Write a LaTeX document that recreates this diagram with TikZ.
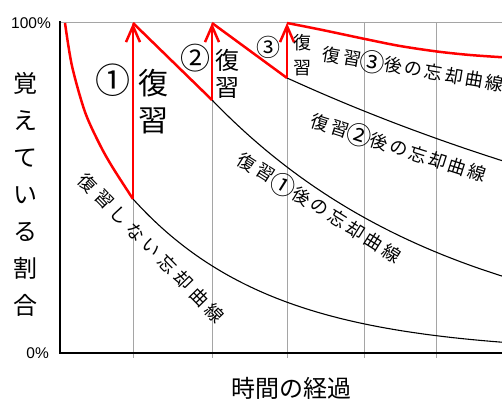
\documentclass[tikz,border=0pt]{standalone}
\usepackage{fontspec}
\newfontfamily\jpfont{Noto Sans CJK JP}
\newfontfamily\latfont{Liberation Sans}
\usetikzlibrary{arrows.meta,calc}
\definecolor{redline}{RGB}{255,0,0}
\definecolor{gridgray}{RGB}{165,165,165}
\newcommand\circnum[1]{{\fontsize{25}{25}\selectfont #1}}
\begin{document}
\begin{tikzpicture}[x=1pt,y=-1pt,
  grid/.style={draw=gridgray,line width=1pt},
  axis/.style={draw=black,line width=1.5pt},
  redc/.style={draw=redline,line width=2.5pt,line join=round},
  blackc/.style={draw=black,line width=1.1pt},
  revarrow/.style={redc,-{Straight Barb[length=16pt,width=14pt]}},
  txt/.style={inner sep=0pt,font=\jpfont},
  rlab/.style={inner sep=0pt,font=\jpfont\fontsize{18}{18}\selectfont},
 ]
\useasboundingbox (0,0) rectangle (502,401);
\fill[white] (0,0) rectangle (502,401);
\begin{scope}
\clip (0,0) rectangle (502,401);
% grid
\foreach \gx in {133,212,287,364,436} \draw[grid] (\gx,23) -- (\gx,358);
\draw[grid] (60,23) -- (505,23);
% axes
\draw[axis] (60,21) -- (60,353) -- (505,353);
% key points
\coordinate (s0) at (65,23);
\coordinate (r1) at (133,199);
\coordinate (t1) at (133,23);
\coordinate (r2) at (212,100);
\coordinate (t2) at (212,23);
\coordinate (r3) at (287,78);
\coordinate (t3) at (287,23);
% curves
\draw[blackc] plot[domain=133:506,samples=90] (\x,{353-154*exp(-0.0072*(\x-133))});
\draw[blackc] plot[domain=212:506,samples=80] (\x,{353-253*exp(-0.0041*(\x-212))});
\draw[blackc] plot[domain=287:506,samples=60] (\x,{353-275*exp(-0.00167*(\x-287))});
\draw[redc] plot[smooth] coordinates {(65,23) (72,66) (85,112) (100,145) (113,168) (133,199)};
\draw[redc] plot[smooth] coordinates {(287,23) (320,29.5) (365,39) (400,46) (437,51.5) (470,55) (506,57.5)};
% review arrows
\draw[revarrow] (r1) -- (t1);
\draw[redc] (t1) -- (r2);
\draw[revarrow] (r2) -- (t2);
\draw[redc] (t2) -- (r3);
\draw[revarrow] (r3) -- (t3);
\end{scope}
% axis texts
\node[inner sep=0pt,font=\latfont\fontsize{15.5}{15.5}\selectfont,anchor=east] (p100) at (51,23) {100\%};
\node[inner sep=0pt,font=\latfont\fontsize{15.5}{15.5}\selectfont,anchor=east] (p0) at (49,353) {0\%};
\node[txt,font=\jpfont\fontsize{24}{37}\selectfont,align=center] (ylab) at (25,194.5) {覚\\え\\て\\い\\る\\割\\合};
\node[txt,font=\jpfont\fontsize{24}{24}\selectfont] (xlab) at (291,388) {時間の経過};
% review labels
\node[txt,font=\jpfont\fontsize{35}{35}\selectfont] (n1) at (113,80) {①};
\node[txt,font=\jpfont\fontsize{30}{37}\selectfont,align=center] (f1) at (153,101.5) {復\\習};
\node[txt,font=\jpfont\fontsize{30}{30}\selectfont] (n2) at (195,58) {②};
\node[txt,font=\jpfont\fontsize{24}{27}\selectfont,align=center] (f2) at (227,73.5) {復\\習};
\node[txt,font=\jpfont\fontsize{24}{24}\selectfont] (n3) at (268,47) {③};
\node[txt,font=\jpfont\fontsize{18}{25}\selectfont,align=center] (f3) at (302,55.5) {復\\習};
% curve labels
\foreach \c [count=\i from 0] in {復,習,し,な,い,忘,却,曲,線}
  \node[rlab,rotate=-45.7] (la\i) at ($(88,183)!\i/8!(215,313)$) {\c};
\foreach \c [count=\i from 0] in {復,習,\circnum{①},後,の,忘,却,曲,線}
  \node[rlab,rotate=-32.1] (lb\i) at ($(247,162)!\i/8!(392,253)$) {\c};
\foreach \c [count=\i from 0] in {復,習,\circnum{②},後,の,忘,却,曲,線}
  \node[rlab,rotate=-17.7] (lc\i) at ($(320,123)!\i/8!(477,173)$) {\c};
\foreach \c [count=\i from 0] in {復,習,\circnum{③},後,の,忘,却,曲,線}
  \node[rlab,rotate=-9.7] (ld\i) at ($(332,55)!\i/8!(495,83)$) {\c};
\end{tikzpicture}
\end{document}
